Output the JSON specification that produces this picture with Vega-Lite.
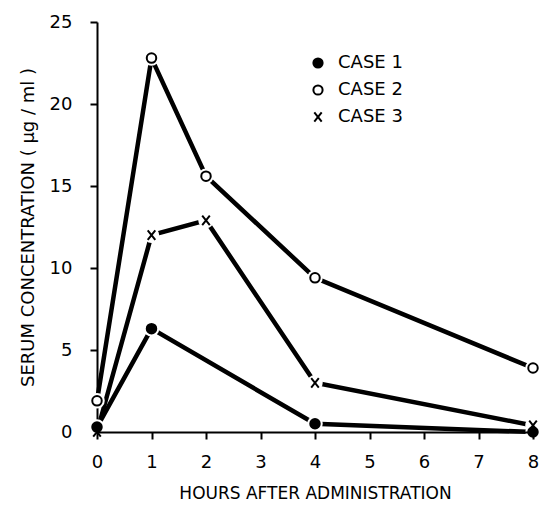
{
  "$schema": "https://vega.github.io/schema/vega-lite/v6.json",
  "autosize": "none",
  "width": 436,
  "height": 410,
  "padding": {"left": 97, "top": 22, "right": 8, "bottom": 78},
  "background": "white",
  "config": {
    "view": {"stroke": null},
    "font": "DejaVu Sans",
    "axis": {
      "grid": false,
      "domainColor": "black",
      "domainWidth": 2,
      "tickColor": "black",
      "tickWidth": 2,
      "tickSize": 7,
      "labelColor": "black",
      "labelFontSize": 18,
      "labelFont": "DejaVu Sans",
      "labelFlush": false,
      "titleColor": "black",
      "titleFont": "DejaVu Sans",
      "titleFontSize": 17,
      "titleFontWeight": "normal"
    }
  },
  "data": {
    "values": [
      {"hours": 0, "conc": 0.3, "case": "CASE 1"},
      {"hours": 1, "conc": 6.3, "case": "CASE 1"},
      {"hours": 4, "conc": 0.5, "case": "CASE 1"},
      {"hours": 8, "conc": 0.0, "case": "CASE 1"},
      {"hours": 0, "conc": 1.9, "case": "CASE 2"},
      {"hours": 1, "conc": 22.8, "case": "CASE 2"},
      {"hours": 2, "conc": 15.6, "case": "CASE 2"},
      {"hours": 4, "conc": 9.4, "case": "CASE 2"},
      {"hours": 8, "conc": 3.9, "case": "CASE 2"},
      {"hours": 0, "conc": 0.0, "case": "CASE 3"},
      {"hours": 1, "conc": 12.0, "case": "CASE 3"},
      {"hours": 2, "conc": 12.9, "case": "CASE 3"},
      {"hours": 4, "conc": 3.0, "case": "CASE 3"},
      {"hours": 8, "conc": 0.4, "case": "CASE 3"}
    ]
  },
  "encoding": {
    "x": {
      "field": "hours", "type": "quantitative",
      "scale": {"domain": [0, 8], "nice": false},
      "axis": {"values": [0,1,2,3,4,5,6,7,8], "title": "HOURS AFTER ADMINISTRATION", "labelPadding": 14, "titlePadding": 14, "zindex": 1}
    },
    "y": {
      "field": "conc", "type": "quantitative",
      "scale": {"domain": [0, 25], "nice": false},
      "axis": {"values": [0,5,10,15,20,25], "title": "SERUM CONCENTRATION ( µg / ml )", "titleFontSize": 18, "labelPadding": 18, "titlePadding": 12}
    }
  },
  "layer": [
    {
      "mark": {"type": "line", "color": "black", "strokeWidth": 4.5},
      "encoding": {"detail": {"field": "case"}}
    },
    {
      "mark": {"type": "point", "shape": "circle", "filled": true, "color": "white", "size": 240, "opacity": 1}
    },
    {
      "mark": {"type": "point", "size": 90, "strokeWidth": 2, "opacity": 1},
      "encoding": {
        "shape": {
          "field": "case", "type": "nominal",
          "scale": {"domain": ["CASE 1", "CASE 2", "CASE 3"], "range": ["circle", "circle", "M-0.8,-1L0.8,1M-0.8,1L0.8,-1"]},
          "legend": {
            "title": null, "orient": "none", "legendX": 212, "legendY": 32,
            "labelFontSize": 18, "labelColor": "black", "labelFont": "DejaVu Sans",
            "symbolSize": 85, "symbolStrokeWidth": 2, "rowPadding": 9, "labelOffset": 11
          }
        },
        "fill": {
          "field": "case", "type": "nominal",
          "scale": {"domain": ["CASE 1", "CASE 2", "CASE 3"], "range": ["black", "white", "transparent"]}
        },
        "stroke": {
          "field": "case", "type": "nominal",
          "scale": {"domain": ["CASE 1", "CASE 2", "CASE 3"], "range": ["black", "black", "black"]}
        }
      }
    }
  ]
}
